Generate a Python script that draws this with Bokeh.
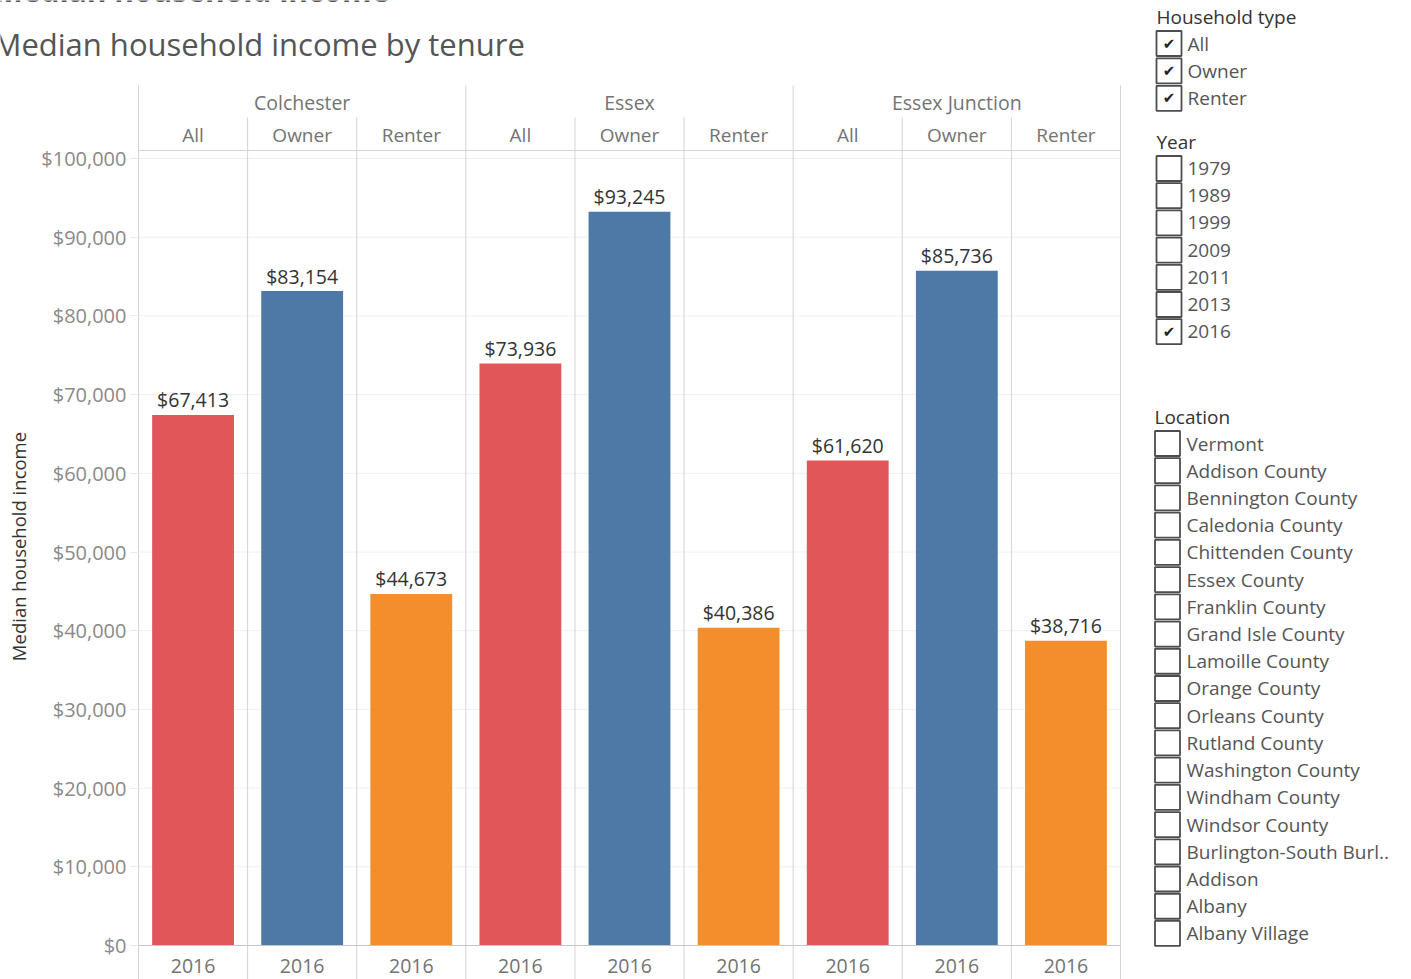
import math
from bokeh.plotting import figure
from bokeh.models import Range1d, FixedTicker, NumeralTickFormatter
from bokeh.core.properties import value
from bokeh.embed import file_html
from bokeh.resources import INLINE

# ---------------- data ----------------
locations = ["Colchester", "Essex", "Essex Junction"]
tenures = ["All", "Owner", "Renter"]
year_label = "2016"
colchester_income = [67413, 83154, 44673]
essex_income = [73936, 93245, 40386]
essex_junction_income = [61620, 85736, 38716]
tenure_colors = ["#e15759", "#4e79a7", "#f28e2b"]
y_ticks = [0, 10000, 20000, 30000, 40000, 50000, 60000, 70000, 80000, 90000, 100000]

household_types = ["All", "Owner", "Renter"]
household_checked = [True, True, True]
years = ["1979", "1989", "1999", "2009", "2011", "2013", "2016"]
years_checked = [False, False, False, False, False, False, True]
location_list = ["Vermont", "Addison County", "Bennington County", "Caledonia County",
                 "Chittenden County", "Essex County", "Franklin County", "Grand Isle County",
                 "Lamoille County", "Orange County", "Orleans County", "Rutland County",
                 "Washington County", "Windham County", "Windsor County",
                 "Burlington-South Burl..", "Addison", "Albany", "Albany Village"]

FONT = value("Open Sans")
incomes = [colchester_income, essex_income, essex_junction_income]

# ---------------- layout helpers ----------------
W, H = 1411, 979
PANE_LEFT, PANE_RIGHT = 138, 1120
ZERO_Y = 945            # pixel row of $0
K = 0.00787             # pixels per dollar

n_cols = len(locations) * len(tenures)
COL = (PANE_RIGHT - PANE_LEFT) / n_cols


def py2y(py):
    return (ZERO_Y - py) / K


p = figure(width=W, height=H, title=None,
           x_range=Range1d(-PANE_LEFT / COL, (W - PANE_LEFT) / COL),
           y_range=Range1d(py2y(H), py2y(0)),
           toolbar_location=None, output_backend="svg",
           x_axis_location=None, min_border=0)
p.outline_line_color = None
p.grid.visible = False
p.extra_x_ranges = {"px": Range1d(0, W)}
p.extra_y_ranges = {"py": Range1d(H, 0)}

line_col = "#d4d4d4"

# y axis drawn at the pane's left edge
ax = p.yaxis[0]
ax.fixed_location = 0
ax.bounds = (py2y(H), py2y(85))
ax.ticker = FixedTicker(ticks=y_ticks)
ax.formatter = NumeralTickFormatter(format="$0,0")
ax.axis_line_color = line_col
ax.major_tick_line_color = "#ebebeb"
ax.major_tick_out = 8
ax.major_tick_in = 0
ax.minor_tick_line_color = None
ax.major_label_standoff = 4
ax.major_label_text_font = "Open Sans"
ax.major_label_text_font_size = "20px"
ax.major_label_text_color = "#8a8a8a"

# horizontal gridlines inside the pane
p.segment(x0=[0] * len(y_ticks), y0=y_ticks, x1=[n_cols] * len(y_ticks), y1=y_ticks,
          line_color="#f0f0f0", line_width=1)

# bars
xs, tops, cols, txt = [], [], [], []
for gi, vals in enumerate(incomes):
    for ti, v in enumerate(vals):
        xs.append(gi * len(tenures) + ti + 0.5)
        tops.append(v)
        cols.append(tenure_colors[ti])
        txt.append("${:,}".format(v))
p.vbar(x=xs, top=tops, bottom=0, width=0.75, fill_color=cols, line_color=None)
p.text(x=xs, y=tops, text=txt, text_font=FONT, text_font_size="19.5px",
       text_color="#333333", text_align="center", text_baseline="middle", y_offset=-15)

# header / footer texts
loc_x = [gi * len(tenures) + len(tenures) / 2 for gi in range(len(locations))]
p.text(x=loc_x, y=[py2y(102)] * len(loc_x), text=locations, text_font=FONT,
       text_font_size="19.5px", text_color="#737373", text_align="center", text_baseline="middle")
ten_x = [i + 0.5 for i in range(n_cols)]
ten_t = [tenures[i % len(tenures)] for i in range(n_cols)]
p.text(x=ten_x, y=[py2y(134)] * n_cols, text=ten_t, text_font=FONT,
       text_font_size="19px", text_color="#737373", text_align="center", text_baseline="middle")
p.text(x=ten_x, y=[py2y(965)] * n_cols, text=[year_label] * n_cols, text_font=FONT,
       text_font_size="19.5px", text_color="#737373", text_align="center", text_baseline="middle")

# separators
sx, sy0 = [], []
for b in range(1, n_cols + 1):
    sx.append(b)
    sy0.append(py2y(85) if b % len(tenures) == 0 else py2y(117))
p.segment(x0=sx, y0=sy0, x1=sx, y1=[py2y(H + 5)] * len(sx), line_color=line_col, line_width=1)
p.segment(x0=[0], y0=[py2y(150)], x1=[n_cols], y1=[py2y(150)], line_color=line_col, line_width=1)
p.segment(x0=[0], y0=[0], x1=[n_cols], y1=[0], line_color="#c6c6c6", line_width=1.2)

# titles (pixel space)
p.text(x=[-6], y=[-10], text=["Median household income"], text_font=FONT,
       text_font_size="30px", text_font_style="bold", text_color="#555555",
       text_align="left", text_baseline="alphabetic", x_range_name="px", y_range_name="py")
p.text(x=[-7], y=[43], text=["Median household income by tenure"], text_font=FONT,
       text_font_size="31px", text_color="#555555", text_align="left", text_baseline="middle",
       x_range_name="px", y_range_name="py")
p.text(x=[18], y=[546], text=["Median household income"], text_font=FONT,
       text_font_size="18.5px", text_color="#333333", angle=math.pi / 2,
       text_align="center", text_baseline="middle", x_range_name="px", y_range_name="py")


# ---------------- filter panel (pixel space) ----------------
def section(title, title_x, title_y, items, checked, first_y, step, box_x, label_x):
    kw = dict(x_range_name="px", y_range_name="py")
    p.text(x=[title_x], y=[title_y], text=[title], text_font=FONT, text_font_size="19px",
           text_color="#333333", text_align="left", text_baseline="middle", **kw)
    ys = [first_y + i * step for i in range(len(items))]
    p.rect(x=[box_x] * len(items), y=ys, width=25, height=25, fill_color="white",
           line_color="#4d4d4d", line_width=1.8, **kw)
    p.text(x=[label_x] * len(items), y=ys, text=items, text_font=FONT, text_font_size="19px",
           text_color="#555555", text_align="left", text_baseline="middle", **kw)
    cy = [y for y, c in zip(ys, checked) if c]
    p.text(x=[box_x] * len(cy), y=cy, text=["\u2714"] * len(cy), text_font=value("DejaVu Sans"),
           text_font_size="15px", text_font_style="bold", text_color="#222222",
           text_align="center", text_baseline="middle", **kw)


section("Household type", 1156, 16, household_types, household_checked, 43, 27.4, 1168.5, 1187)
section("Year", 1156, 141, years, years_checked, 168, 27.2, 1168.5, 1187)
section("Location", 1154, 416, location_list, [False] * len(location_list), 443, 27.22, 1167, 1186)

open("out.html", "w").write(file_html(p, INLINE))
